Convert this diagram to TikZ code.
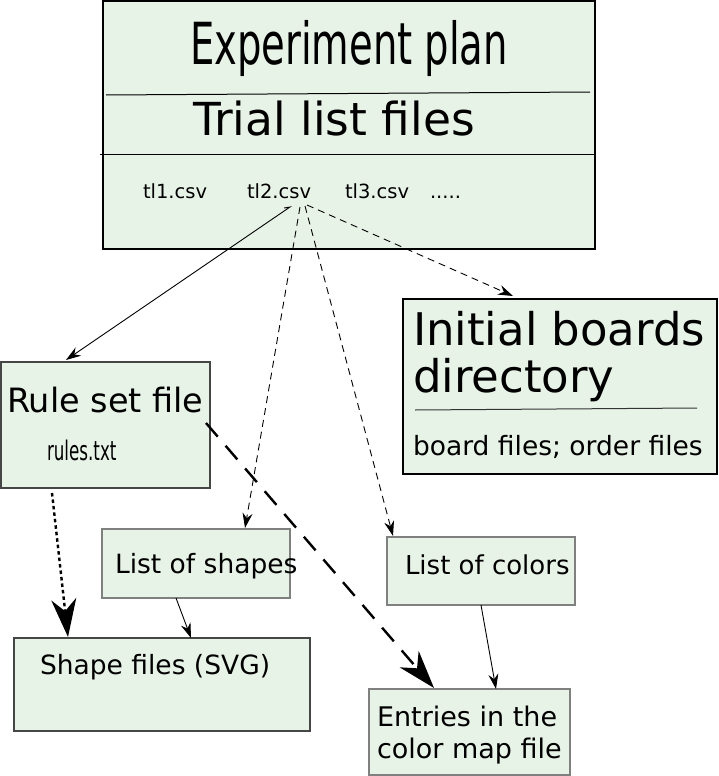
\documentclass[tikz,border=0pt]{standalone}
\usepackage{fontspec}
\setmainfont{DejaVu Sans}
\usetikzlibrary{arrows.meta,calc}
\definecolor{boxfill}{RGB}{232,243,232}
\definecolor{boxline}{RGB}{70,70,70}
\newcommand\setfs[1]{\fontsize{#1}{#1}\selectfont}
\tikzset{
  box/.style={draw=boxline, fill=boxfill, line width=1.2pt, anchor=north west, inner sep=0pt, outer sep=0pt},
  txt/.style={anchor=base west, inner sep=0pt, outer sep=0pt},
  thinarrow/.style={line width=0.9pt, -{Stealth[length=15pt,width=10pt,inset=5pt]}},
  thindash/.style={thinarrow, dash pattern=on 7pt off 5pt},
  bigtip/.style={-{Stealth[length=38pt,width=25pt,inset=12pt]}},
}
\begin{document}
\begin{tikzpicture}[x=1pt,y=-1pt]
\useasboundingbox (0,0) rectangle (718,776);
% boxes
\node[box, draw=black, line width=2pt, minimum width=492pt, minimum height=248pt] (plan) at (103,1) {};
\node[box, minimum width=209pt, minimum height=126pt] (rule) at (1,362) {};
\node[box, draw=black, minimum width=314pt, minimum height=175pt] (boards) at (403,299) {};
\node[box, draw=gray, minimum width=188pt, minimum height=69pt] (shapes) at (102,529) {};
\node[box, draw=gray, minimum width=188pt, minimum height=68pt] (colors) at (387,537) {};
\node[box, draw=boxline, minimum width=296pt, minimum height=93pt] (svg) at (14,638) {};
\node[box, draw=gray, minimum width=201pt, minimum height=86pt] (cmap) at (369,689) {};
% dividers
\draw[line width=1pt] (106,95) -- (590,92);
\draw[line width=1pt] (100,154) -- (595,154);
\draw[line width=1pt, draw=black!80] (415,410) -- (697,408);
% texts
\node[txt] (tplan) at (190,65) {\setfs{58}\scalebox{0.664}[1]{Experiment plan}};
\node[txt] (ttrial) at (193,135) {\setfs{45.5}Trial list files};
\node[txt] (tl1) at (143,198) {\setfs{19.5}tl1.csv};
\node[txt] (tl2) at (247,198) {\setfs{19.5}tl2.csv};
\node[txt] (tl3) at (345,198) {\setfs{19.5}tl3.csv};
\node[txt] (tdots) at (430,198) {\setfs{19.5}.....};
\node[txt] (trule) at (7,412) {\setfs{33.5}Rule set file};
\node[txt] (trules) at (47,460) {\setfs{27}\scalebox{0.62}[1]{rules.txt}};
\node[txt] (tinit) at (413,345) {\setfs{45}Initial boards};
\node[txt] (tdir) at (413,392) {\setfs{45}directory};
\node[txt] (tboard) at (413,455) {\setfs{26.5}board files; order files};
\node[txt] (tshapes) at (115,573) {\setfs{26.5}List of shapes};
\node[txt] (tcolors) at (405,574) {\setfs{26}List of colors};
\node[txt] (tsvg) at (40,674) {\setfs{26.5}Shape files (SVG)};
\node[txt] (tent) at (377,726) {\setfs{27}Entries in the};
\node[txt] (tmap) at (377,758) {\setfs{27}color map file};
% connector origins
\coordinate (o1) at (290,207);
\coordinate (o2) at (300,207);
\coordinate (o3) at (305,206);
\coordinate (o4) at (307,205);
% connectors
\draw[thinarrow] (284,208) -- (o1) -- ([xshift=65pt,yshift=2pt]rule.north west);
\draw[thindash] (o2) -- ([xshift=143pt,yshift=1pt]shapes.north west);
\draw[thindash] (o3) -- ([xshift=6pt,yshift=1pt]colors.north west);
\draw[thindash] (o4) -- ([xshift=110pt,yshift=3pt]boards.north west);
\draw[line width=2.4pt, dash pattern=on 3.5pt off 3pt, bigtip] ([xshift=51pt,yshift=-5pt]rule.south west) -- ([xshift=54pt,yshift=1pt]svg.north west);
\draw[line width=2.4pt, dash pattern=on 18pt off 12pt, bigtip] ([xshift=-4pt,yshift=-61pt]rule.north east) -- ([xshift=65pt,yshift=1pt]cmap.north west);
\draw[thinarrow] ([xshift=74pt]shapes.south west) -- ([xshift=177pt]svg.north west);
\draw[thinarrow] ([xshift=94pt]colors.south west) -- ([xshift=127pt]cmap.north west);
\end{tikzpicture}
\end{document}
